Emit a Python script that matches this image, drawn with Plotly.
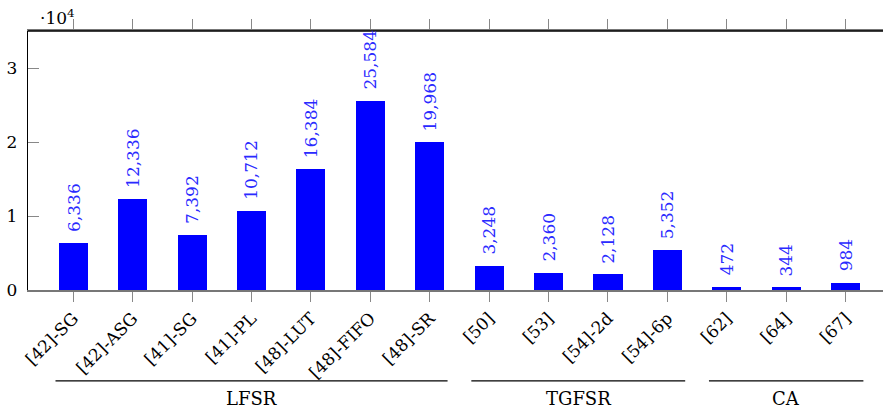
import plotly.graph_objects as go

categories = ["[42]-SG", "[42]-ASG", "[41]-SG", "[41]-PL", "[48]-LUT", "[48]-FIFO", "[48]-SR",
              "[50]", "[53]", "[54]-2d", "[54]-6p", "[62]", "[64]", "[67]"]
values = [6336, 12336, 7392, 10712, 16384, 25584, 19968, 3248, 2360, 2128, 5352, 472, 344, 984]
groups = [("LFSR", 0, 6), ("TGFSR", 7, 10), ("CA", 11, 13)]
ytick_vals = [0, 10000, 20000, 30000]
ytick_text = ["0", "1", "2", "3"]

FONT = "DejaVu Serif"
xs = list(range(len(categories)))

fig = go.Figure()
fig.add_trace(go.Bar(
    x=xs, y=values, width=0.49,
    marker=dict(color="#0000ff", line=dict(width=0)),
    cliponaxis=False, hoverinfo="skip",
))

shapes = [dict(type="line", xref="paper", yref="paper", x0=0, x1=1, y0=1, y1=1,
               line=dict(color="black", width=1.3))]
annotations = []
for xi, v in zip(xs, values):
    annotations.append(dict(x=xi, y=v, xref="x", yref="y", text=f"{v:,}", showarrow=False,
                            textangle=-90, xanchor="center", yanchor="bottom", yshift=9,
                            font=dict(family=FONT, size=17, color="#2a2aff")))
for name, a, b in groups:
    shapes.append(dict(type="line", xref="x", yref="paper", x0=a - 0.3, x1=b + 0.3,
                       y0=-0.351, y1=-0.351, line=dict(color="black", width=1.2)))
    annotations.append(dict(x=(a + b) / 2, y=-0.417, xref="x", yref="paper", text=name,
                            showarrow=False, font=dict(family=FONT, size=18, color="black"),
                            xanchor="center", yanchor="middle"))
annotations.append(dict(x=0.0117, y=1, xref="paper", yref="paper", text="·10<sup>4</sup>",
                        showarrow=False, xanchor="left", yanchor="bottom", yshift=1,
                        font=dict(family=FONT, size=17, color="black")))

fig.update_layout(
    width=883, height=414,
    margin=dict(l=28, r=0, t=31, b=124, autoexpand=False),
    plot_bgcolor="white", paper_bgcolor="white",
    showlegend=False,
    bargap=0,
    xaxis=dict(range=[-0.763, 13.63], tickmode="array", tickvals=xs, ticktext=categories,
               tickangle=-45, ticks="outside", ticklen=10, tickcolor="#888888", tickwidth=1.2,
               showline=True, linecolor="#777777", linewidth=1.5, mirror="ticks",
               showgrid=False, zeroline=False, automargin=False,
               tickfont=dict(family=FONT, size=17, color="black")),
    yaxis=dict(range=[0, 35000], tickmode="array", tickvals=ytick_vals, ticktext=ytick_text,
               ticks="inside", ticklen=11, tickcolor="#888888", tickwidth=1.2,
               showline=True, linecolor="black", linewidth=1.3,
               showgrid=False, zeroline=False, ticklabelstandoff=6, automargin=False,
               tickfont=dict(family=FONT, size=17, color="black")),
    yaxis2=dict(overlaying="y", side="right", matches="y", tickmode="array", tickvals=ytick_vals,
                ticks="inside", ticklen=3, tickcolor="#888888", showticklabels=False,
                showline=False, showgrid=False, zeroline=False, automargin=False),
    shapes=shapes,
    annotations=annotations,
)

fig.write_html("out.html", config={"displayModeBar": False},
               post_script="document.body.style.margin='0';")
